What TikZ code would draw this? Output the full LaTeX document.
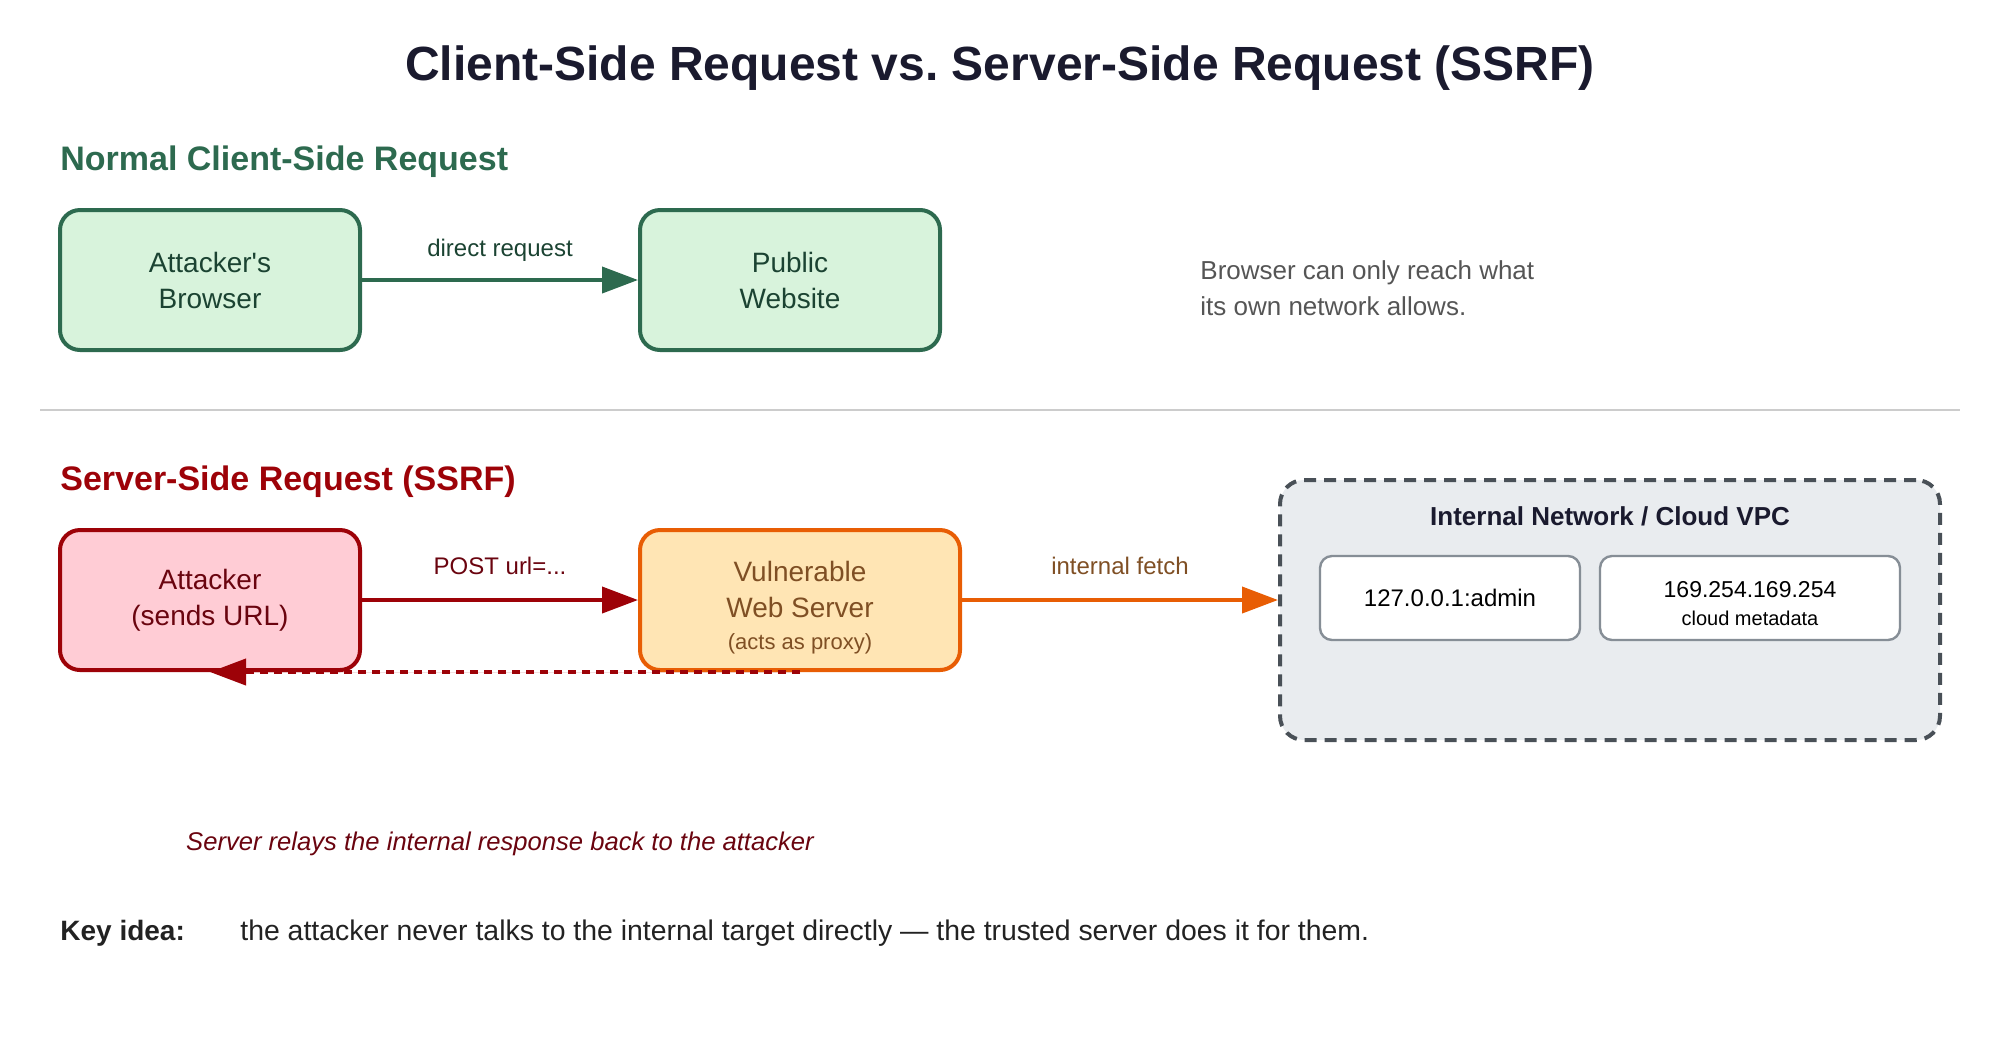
\documentclass[tikz,border=0pt]{standalone}
\usepackage{fontspec}
\setmainfont{Liberation Sans}[Ligatures=TeXOff]
\usetikzlibrary{arrows.meta}
\frenchspacing
\newcommand\fsz[2]{\fontsize{#1}{#2}\selectfont}
\definecolor{titlecol}{HTML}{1A1A2E}
\definecolor{grnline}{HTML}{2D6A4F}
\definecolor{grnfill}{HTML}{D8F3DC}
\definecolor{grntext}{HTML}{1B4332}
\definecolor{redline}{HTML}{9D0208}
\definecolor{redfill}{HTML}{FFCCD5}
\definecolor{redtext}{HTML}{6A040F}
\definecolor{orgline}{HTML}{E85D04}
\definecolor{orgfill}{HTML}{FFE5B4}
\definecolor{orgtext}{HTML}{7F4F24}
\definecolor{vpcline}{HTML}{495057}
\definecolor{vpcfill}{HTML}{E9ECEF}
\definecolor{hostline}{HTML}{868E96}
\definecolor{notecol}{HTML}{555555}
\definecolor{sepcol}{HTML}{CCCCCC}
\definecolor{keycol}{HTML}{222222}
\begin{document}
\begin{tikzpicture}[x=1pt,y=-1pt,
  box/.style={draw,rounded corners=10pt,line width=2pt,minimum width=150pt,minimum height=70pt,align=center,font=\fsz{14}{18}},
  safebox/.style={box,draw=grnline,fill=grnfill,text=grntext},
  evilbox/.style={box,draw=redline,fill=redfill,text=redtext},
  proxybox/.style={box,draw=orgline,fill=orgfill,text=orgtext,minimum width=160pt},
  hostbox/.style={draw=hostline,fill=white,line width=1.2pt,rounded corners=6pt,minimum height=42pt,align=center,font=\fsz{12}{16}},
  heading/.style={anchor=base west,inner sep=0pt,font=\bfseries\fsz{17}{20}},
  lbl/.style={anchor=base,font=\fsz{12}{14}},
  conn/.style={-{Triangle[length=18pt,width=13pt]},line width=2pt}]
\useasboundingbox (0,0) rectangle (1000,520);
% title
\node[anchor=base,font=\bfseries\fsz{24}{28},text=titlecol] (title) at (500,40) {Client-Side Request vs. Server-Side Request (SSRF)};
% normal request
\node[heading,text=grnline] (hnormal) at (30,85) {Normal Client-Side Request};
\node[safebox] (browser) at (105,140) {Attacker's\\Browser};
\node[safebox] (website) at (395,140) {Public\\Website};
\draw[conn,draw=grnline,fill=grnline] (browser) -- (website);
\node[lbl,text=grntext] (ldirect) at (250,128) {direct request};
\node[anchor=west,inner sep=0pt,align=left,font=\fsz{13}{18},text=notecol] (note) at (600,144) {Browser can only reach what\\its own network allows.};
\draw[sepcol,line width=1pt] (20,205) -- (980,205);
% ssrf
\node[heading,text=redline] (hssrf) at (30,245) {Server-Side Request (SSRF)};
\node[draw=vpcline,fill=vpcfill,line width=2pt,dash pattern=on 6pt off 4pt,rounded corners=12pt,minimum width=330pt,minimum height=130pt] (vpc) at (805,305) {};
\node[anchor=base,font=\bfseries\fsz{13}{16},text=titlecol] (hvpc) at (805,262.5) {Internal Network / Cloud VPC};
\node[hostbox,minimum width=130pt] (localhost) at (725,299) {127.0.0.1:admin};
\node[hostbox,minimum width=150pt] (metadata) at (875,299) {\rule{0pt}{14pt}{\fsz{11.5}{14}169.254.169.254}\\[-2pt]{\fsz{10}{13}cloud metadata}};
\node[evilbox] (attacker) at (105,300) {Attacker\\(sends URL)};
\node[proxybox] (server) at (400,300) {\rule{0pt}{18pt}Vulnerable\\Web Server\\[-2pt]{\fsz{11}{14}(acts as proxy)}};
\draw[conn,draw=redline,fill=redline] (attacker) -- (server);
\node[lbl,text=redtext] (lpost) at (250,287) {POST url=...};
\draw[conn,draw=orgline,fill=orgline] (server.east) -- (server.east -| vpc.west);
\node[lbl,text=orgtext] (lfetch) at (560,287) {internal fetch};
\draw[conn,draw=redline,fill=redline,dash pattern=on 4pt off 3pt] (server.south) -- (attacker.south);
\node[anchor=base,font=\itshape\fsz{12.8}{16},text=redtext] (lrelay) at (250,425) {Server relays the internal response back to the attacker};
% key idea
\node[anchor=base west,inner sep=0pt,font=\bfseries\fsz{14}{17},text=keycol] (key) at (30,470) {Key idea:};
\node[anchor=base west,inner sep=0pt,font=\fsz{14.2}{17},text=keycol] (keytext) at (120,470) {the attacker never talks to the internal target directly — the trusted server does it for them.};
\end{tikzpicture}
\end{document}
